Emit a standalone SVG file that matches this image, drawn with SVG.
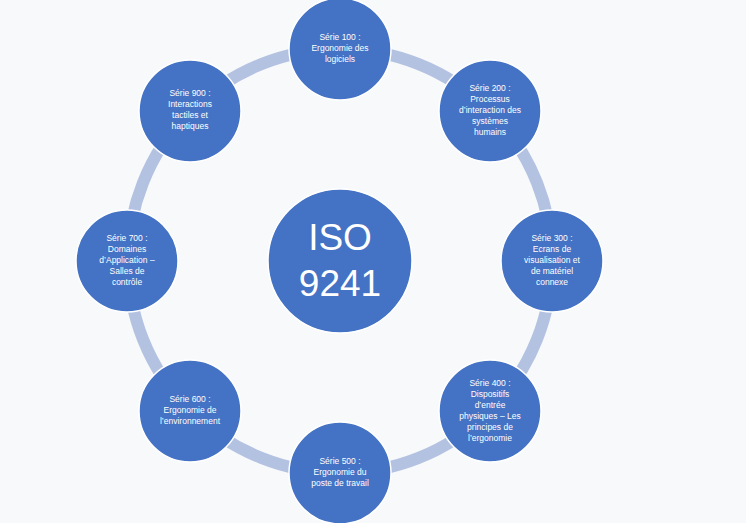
<svg xmlns="http://www.w3.org/2000/svg" width="746" height="523" viewBox="0 0 746 523">
<style>
.n{fill:#4472c4;stroke:#ffffff;stroke-width:1.5}
.t{fill:#ffffff;font-family:"Liberation Sans",Arial,sans-serif;font-size:8.5px;text-anchor:middle}
.c{fill:#ffffff;font-family:"Liberation Sans",Arial,sans-serif;font-size:37px;text-anchor:middle}
</style>
<rect width="746" height="523" fill="#f7f9fb"/>
<g id="connectors"><circle cx="340" cy="261" r="212" fill="none" stroke="#b4c2e2" stroke-width="12"/></g>
<g id="center"><circle class="n" cx="340" cy="261" r="72"/><text class="c" x="340" y="250">ISO</text><text class="c" x="340" y="296">9241</text></g>
<g id="s100"><circle class="n" cx="340" cy="49" r="51"/><text class="t" x="340" y="40">Série 100 :</text><text class="t" x="340" y="51">Ergonomie des</text><text class="t" x="340" y="62">logiciels</text></g>
<g id="s200"><circle class="n" cx="490" cy="111" r="51"/><text class="t" x="490" y="91">Série 200 :</text><text class="t" x="490" y="102">Processus</text><text class="t" x="490" y="113">d’interaction des</text><text class="t" x="490" y="124">systèmes</text><text class="t" x="490" y="135">humains</text></g>
<g id="s300"><circle class="n" cx="552" cy="261" r="51"/><text class="t" x="552" y="241">Série 300 :</text><text class="t" x="552" y="252">Ecrans de</text><text class="t" x="552" y="263">visualisation et</text><text class="t" x="552" y="274">de matériel</text><text class="t" x="552" y="285">connexe</text></g>
<g id="s400"><circle class="n" cx="490" cy="411" r="51"/><text class="t" x="490" y="386">Série 400 :</text><text class="t" x="490" y="397">Dispositifs</text><text class="t" x="490" y="408">d’entrée</text><text class="t" x="490" y="419">physiques – Les</text><text class="t" x="490" y="430">principes de</text><text class="t" x="490" y="441">l’ergonomie</text></g>
<g id="s500"><circle class="n" cx="340" cy="473" r="51"/><text class="t" x="340" y="464">Série 500 :</text><text class="t" x="340" y="475">Ergonomie du</text><text class="t" x="340" y="486">poste de travail</text></g>
<g id="s600"><circle class="n" cx="190" cy="411" r="51"/><text class="t" x="190" y="402">Série 600 :</text><text class="t" x="190" y="413">Ergonomie de</text><text class="t" x="190" y="424">l’environnement</text></g>
<g id="s700"><circle class="n" cx="127" cy="261" r="51"/><text class="t" x="127" y="241">Série 700 :</text><text class="t" x="127" y="252">Domaines</text><text class="t" x="127" y="263">d’Application –</text><text class="t" x="127" y="274">Salles de</text><text class="t" x="127" y="285">contrôle</text></g>
<g id="s900"><circle class="n" cx="190" cy="111" r="51"/><text class="t" x="190" y="96">Série 900 :</text><text class="t" x="190" y="107">Interactions</text><text class="t" x="190" y="118">tactiles et</text><text class="t" x="190" y="129">haptiques</text></g>
</svg>
